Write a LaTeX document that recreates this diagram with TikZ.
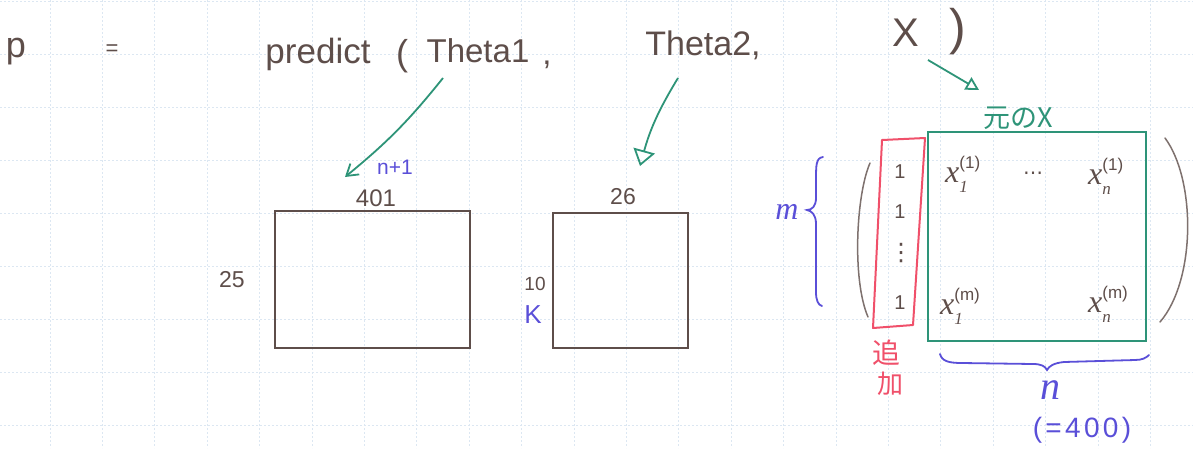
\documentclass[tikz,border=0pt]{standalone}
\usepackage{fontspec}
\setmainfont{Liberation Sans}
\newfontfamily\jp{Noto Sans CJK JP}
\newfontfamily\mi{Liberation Serif}[UprightFont=*-Italic]
\newfontfamily\djv{DejaVu Sans}
\usetikzlibrary{arrows.meta}
\definecolor{ink}{HTML}{5E4E4A}
\definecolor{grn}{HTML}{2E9478}
\definecolor{blu}{HTML}{5A4FD8}
\definecolor{rdd}{HTML}{F0506A}
\definecolor{gridc}{HTML}{DCE7F2}
\newcommand\hsz[1]{\fontsize{#1}{#1}\selectfont}
\newcommand\xel[2]{{\mi x}\rlap{\raisebox{14pt}{\hsz{17}(#2)}}\raisebox{-10pt}{\hsz{17}\mi #1}}
\begin{document}
\begin{tikzpicture}[x=1pt,y=-1pt,
  txt/.style={inner sep=0pt,text=ink},
  btxt/.style={inner sep=0pt,text=blu},
  gtxt/.style={inner sep=0pt,text=grn},
  rtxt/.style={inner sep=0pt,text=rdd},
  gridline/.style={draw=gridc,line width=0.7pt,dash pattern=on 2pt off 2pt},
  boxk/.style={draw=ink,line width=1.8pt,inner sep=0pt},
  boxg/.style={draw=grn,line width=2.2pt,inner sep=0pt},
  garrow/.style={draw=grn,line width=1.8pt},
  brace/.style={draw=blu,line width=1.8pt,line cap=round},
  paren/.style={draw=ink!80,line width=1.5pt,line cap=round}]
\fill[white] (0,0) rectangle (1193,448);
\useasboundingbox (0,0) rectangle (1193,448);
% grid paper
\foreach \i in {0,...,23} \draw[gridline] ({-2.4+52.4*\i},0) -- ({-2.4+52.4*\i},448);
\foreach \j in {0,...,8} \draw[gridline] (0,{1+53*\j}) -- (1193,{1+53*\j});

% top line: p = predict ( Theta1 , Theta2, X )
\node[txt,font=\hsz{36},anchor=base] (p) at (16,57) {p};
\node[txt,font=\hsz{22}] (eq) at (112,50) {=};
\node[txt,font=\hsz{35},anchor=base] (pred) at (318,63) {predict};
\node[txt,font=\hsz{36},anchor=base] (lpar) at (402,65) {(};
\node[txt,font=\hsz{33},anchor=base] (th1t) at (478,62) {Theta1};
\node[txt,font=\hsz{33},anchor=base] (comma) at (547,64) {,};
\node[txt,font=\hsz{34},anchor=base] (th2t) at (703,55) {Theta2,};
\node[txt,font=\hsz{40}] (xt) at (906,33) {X};
\node[txt,font=\hsz{50}] (rpar) at (958,32) {)};

% Theta1 matrix
\node[boxk,minimum width=195pt,minimum height=137pt] (m1) at (372.5,279.5) {};
\node[btxt,font=\hsz{21}] (n1) at (395,167) {n+1};
\node[txt,font=\hsz{24}] (c401) at (376,198) {401};
\node[txt,font=\hsz{23}] (r25) at (232,280) {25};

% Theta2 matrix
\node[boxk,minimum width=135pt,minimum height=135pt] (m2) at (620.5,280.5) {};
\node[txt,font=\hsz{23}] (c26) at (623,197) {26};
\node[txt,font=\hsz{19}] (r10) at (535,284) {10};
\node[btxt,font=\hsz{26}] (kk) at (533,315) {K};

% arrows
\coordinate (a1s) at (443,78);
\coordinate (a1e) at (345,177);
\coordinate (a2s) at (678,78);
\coordinate (a2e) at (640,166);
\coordinate (a3s) at (928,60);
\coordinate (a3e) at (979,90);
\draw[garrow,-{Straight Barb[length=11pt,width=14pt]}] (a1s) to[bend left=6] (a1e);
\draw[garrow,-{Triangle[open,length=16pt,width=22pt,line width=1.8pt]}] (a2s) to[bend right=8] (a2e);
\draw[garrow,-{Triangle[open,length=13pt,width=14pt,line width=1.8pt]}] (a3s) -- (a3e);

% X matrix
\node[gtxt,font=\jp\hsz{27}] (orig) at (1018,118) {元のX};
\node[boxg,minimum width=218pt,minimum height=209pt] (mx) at (1037,236.5) {};
\draw[draw=rdd,line width=2pt,line join=round] (882,140) -- (925,138) -- (913,325) -- (873,328) -- cycle;
\node[txt,font=\hsz{20}] (o1) at (900,172) {1};
\node[txt,font=\hsz{20}] (o2) at (900,212) {1};
\node[txt,font=\djv\hsz{24}] (ov) at (901,253) {⋮};
\node[txt,font=\hsz{20}] (o3) at (900,303) {1};
\node[rtxt,font=\jp\hsz{28}] (tsui) at (886,353) {追};
\node[rtxt,font=\jp\hsz{26}] (ka) at (890,384) {加};

\node[txt,font=\hsz{32},anchor=base west] (x11) at (945,182) {\xel{1}{1}};
\node[txt,font=\djv\hsz{20}] (dts) at (1033,176) {⋯};
\node[txt,font=\hsz{32},anchor=base west] (xn1) at (1088,184) {\xel{n}{1}};
\node[txt,font=\hsz{32},anchor=base west] (x1m) at (940,314) {\xel{1}{m}};
\node[txt,font=\hsz{32},anchor=base west] (xnm) at (1088,312) {\xel{n}{m}};

% parentheses of the matrix
\draw[paren] (870,163) .. controls (856,195) and (852,280) .. (868,317);
\draw[paren] (1165,138) .. controls (1196,180) and (1196,280) .. (1160,322);

% braces
\draw[brace] (823,157) .. controls (816,158) and (816,165) .. (816,180) -- (816,198) .. controls (816,206) and (812,210) .. (807,210) .. controls (812,211) and (816,215) .. (816,224) -- (816,292) .. controls (816,300) and (818,305) .. (822,306);
\node[btxt,font=\mi\hsz{32}] (mm) at (787,212) {m};
\draw[brace] (940,354) .. controls (942,361) and (948,363) .. (962,363) -- (1033,364) .. controls (1041,364) and (1045,366) .. (1047,370) .. controls (1049,366) and (1054,363) .. (1064,362) -- (1135,360) .. controls (1142,360) and (1146,358) .. (1149,355);
\node[btxt,font=\mi\hsz{40}] (nn) at (1050,390) {n};
\node[btxt,font=\hsz{28}] (n400) at (1082,430) {\addfontfeature{LetterSpace=12}(=400)};
\end{tikzpicture}
\end{document}
